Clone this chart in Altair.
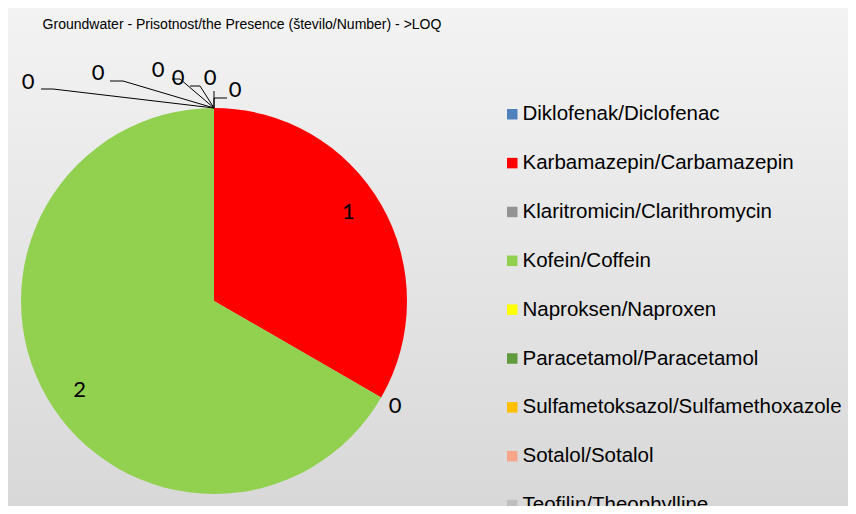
import math
import altair as alt
import pandas as pd

# ---- data ----
categories = [
    "Diklofenak/Diclofenac",
    "Karbamazepin/Carbamazepin",
    "Klaritromicin/Clarithromycin",
    "Kofein/Coffein",
    "Naproksen/Naproxen",
    "Paracetamol/Paracetamol",
    "Sulfametoksazol/Sulfamethoxazole",
    "Sotalol/Sotalol",
    "Teofilin/Theophylline",
]
values = [0, 1, 0, 2, 0, 0, 0, 0, 0]
colors = ["#4F81BD", "#FF0000", "#939393", "#92D050", "#FFFF00",
          "#629A3E", "#FFC000", "#F4A58A", "#BFBFBF"]
title_text = "Groundwater - Prisotnost/the Presence (število/Number) - >LOQ"

# ---- layout ----
W, H = 840, 498
CX, CY, R = 206, 293, 193
LABEL_R = 161
# Excel-style outside labels for zero slices: label offset from slice edge point,
# and leader polyline (relative to the slice edge point)
zero_layout = {
    "Diklofenak/Diclofenac": ((21, -18), [(0, 0), (0, -10), (13, -10)]),
    "Klaritromicin/Clarithromycin": ((14, 8), []),
    "Naproksen/Naproxen": ((-4, -30), [(0, 0), (0, -17)]),
    "Paracetamol/Paracetamol": ((-36, -30), [(0, 0), (-14, -22), (-24, -22)]),
    "Sulfametoksazol/Sulfamethoxazole": ((-56, -38), [(0, 0), (-34, -29), (-42, -29)]),
    "Sotalol/Sotalol": ((-116, -35), [(0, 0), (-91, -27), (-104, -27)]),
    "Teofilin/Theophylline": ((-186, -26), [(0, 0), (-161, -19), (-173, -19)]),
}

df = pd.DataFrame({"category": categories, "value": values,
                   "order": list(range(len(categories)))})

total = sum(values)
cum = 0
zl_rows, line_rows = [], []
for c, v in zip(categories, values):
    ang = 2 * math.pi * cum / total
    ax, ay = CX + R * math.sin(ang), CY - R * math.cos(ang)
    if c in zero_layout:
        (dx, dy), pts = zero_layout[c]
        zl_rows.append({"category": c, "value": v, "px": ax + dx, "py": ay + dy})
        for i, (lx, ly) in enumerate(pts):
            line_rows.append({"category": c, "i": i, "px": ax + lx, "py": ay + ly})
    cum += v
zl_df = pd.DataFrame(zl_rows)
line_df = pd.DataFrame(line_rows)

bg = alt.Chart(pd.DataFrame({"a": [0]})).mark_rect(
    color=alt.LinearGradient(
        gradient="linear",
        stops=[alt.GradientStop(color="#f3f3f3", offset=0),
               alt.GradientStop(color="#d8d8d8", offset=1)],
        x1=0, x2=0, y1=0, y2=1,
    )
).encode(x=alt.value(0), x2=alt.value(W), y=alt.value(0), y2=alt.value(H))

title = alt.Chart(pd.DataFrame({"t": [title_text]})).mark_text(
    font="Liberation Sans Narrow, Arial Narrow, Liberation Sans, Arial, sans-serif",
    fontSize=14, color="#000000", align="center", baseline="middle",
).encode(text="t:N", x=alt.value(234), y=alt.value(17))

pie = alt.Chart(df).mark_arc(outerRadius=R).encode(
    theta=alt.Theta("value:Q", stack=True),
    color=alt.Color(
        "category:N",
        scale=alt.Scale(domain=categories, range=colors),
        sort=categories,
        legend=alt.Legend(
            title=None, orient="none", legendX=494, legendY=96,
            symbolType="square", symbolSize=110, symbolStrokeWidth=0,
            labelFont="Liberation Sans, Arial, sans-serif", labelFontSize=20.5,
            labelColor="#000000", labelLimit=500, labelOffset=0,
            rowPadding=27.85, padding=0,
        ),
    ),
    order=alt.Order("order:Q"),
    x=alt.value(CX), y=alt.value(CY),
)

nz_text = alt.Chart(df).transform_filter("datum.value > 0").mark_text(
    radius=LABEL_R, thetaOffset=-0.06, fontSize=22, font="Lato, sans-serif",
    color="#000000", align="center", baseline="middle",
).encode(
    theta=alt.Theta("value:Q", stack=True),
    order=alt.Order("order:Q"),
    text="value:Q",
    x=alt.value(CX), y=alt.value(CY),
)

zero_text = alt.Chart(zl_df).mark_text(
    fontSize=22, font="Lato, sans-serif", color="#000000",
    align="center", baseline="middle",
).encode(
    x=alt.X("px:Q", scale=None), y=alt.Y("py:Q", scale=None), text="value:Q",
)

leaders = alt.Chart(line_df).mark_line(color="#000000", strokeWidth=1).encode(
    x=alt.X("px:Q", scale=None), y=alt.Y("py:Q", scale=None),
    detail="category:N", order="i:Q",
)

chart = alt.layer(bg, title, pie, nz_text, leaders, zero_text).properties(
    width=W, height=H, padding=0, autosize=alt.AutoSizeParams(type="none"),
    background="#e6e6e6",
).configure_view(stroke=None)

chart.save("out.html", embed_options={"renderer": "svg", "actions": False})
